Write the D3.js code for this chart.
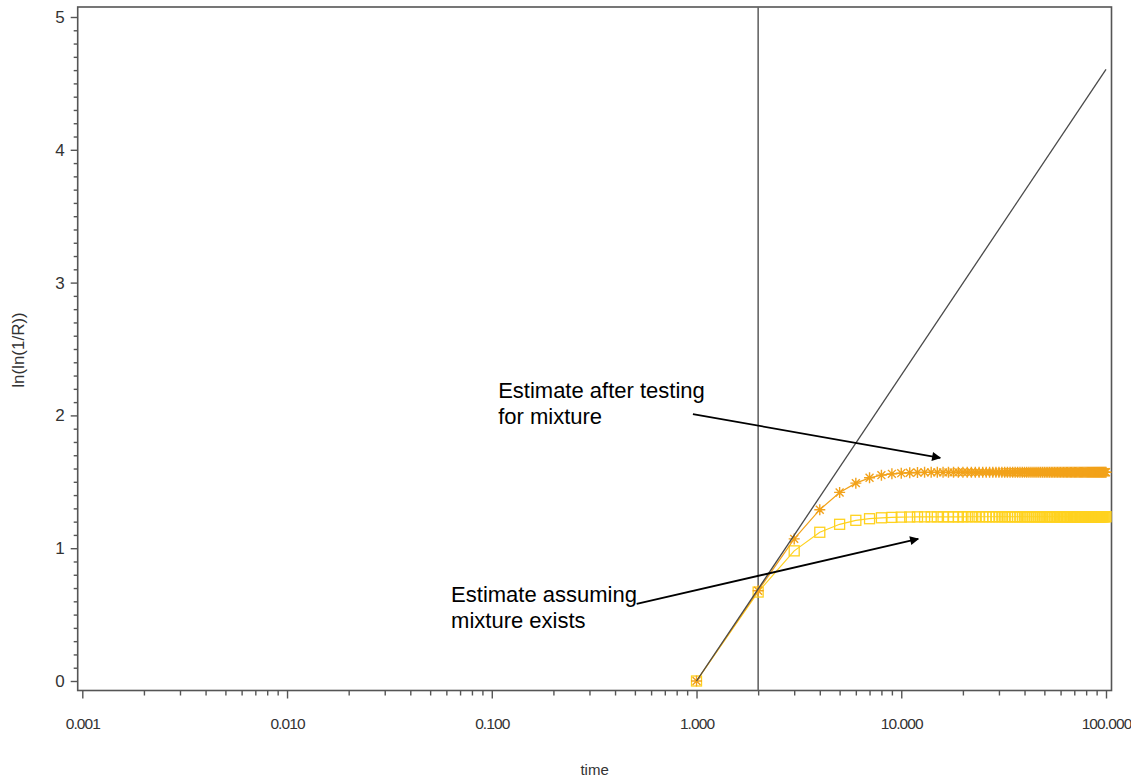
<!DOCTYPE html>
<html>
<head>
<meta charset="utf-8">
<script src="https://cdn.jsdelivr.net/npm/d3@7"></script>
<style>
  html, body { margin: 0; padding: 0; background: #fff; }
  svg { display: block; }
  text { font-family: "Liberation Sans", Arial, sans-serif; }
</style>
</head>
<body>
<svg id="chart" width="1131" height="783"></svg>
<script>
// time points (integer hours)
const times = [
  1, 2, 3, 4, 5, 6, 7, 8, 9, 10,
  11, 12, 13, 14, 15, 16, 17, 18, 19, 20,
  21, 22, 23, 24, 25, 26, 27, 28, 29, 30,
  31, 32, 33, 34, 35, 36, 37, 38, 39, 40,
  41, 42, 43, 44, 45, 46, 47, 48, 49, 50,
  51, 52, 53, 54, 55, 56, 57, 58, 59, 60,
  61, 62, 63, 64, 65, 66, 67, 68, 69, 70,
  71, 72, 73, 74, 75, 76, 77, 78, 79, 80,
  81, 82, 83, 84, 85, 86, 87, 88, 89, 90,
  91, 92, 93, 94, 95, 96, 97, 98, 99, 100
];

// ln(ln(1/R)) estimate after testing for mixture
const afterTesting = [
  0.000, 0.680, 1.070, 1.290, 1.420, 1.490, 1.530, 1.550, 1.560, 1.565,
  1.568, 1.570, 1.571, 1.571, 1.571, 1.571, 1.571, 1.571, 1.572, 1.572,
  1.572, 1.572, 1.572, 1.572, 1.572, 1.572, 1.572, 1.572, 1.572, 1.572,
  1.572, 1.572, 1.572, 1.572, 1.572, 1.572, 1.572, 1.572, 1.572, 1.572,
  1.572, 1.572, 1.572, 1.572, 1.572, 1.572, 1.572, 1.572, 1.572, 1.572,
  1.572, 1.572, 1.572, 1.572, 1.572, 1.572, 1.572, 1.572, 1.572, 1.572,
  1.572, 1.572, 1.572, 1.572, 1.572, 1.572, 1.572, 1.572, 1.572, 1.572,
  1.572, 1.572, 1.572, 1.572, 1.572, 1.572, 1.572, 1.572, 1.572, 1.572,
  1.572, 1.572, 1.572, 1.572, 1.572, 1.572, 1.572, 1.572, 1.572, 1.572,
  1.572, 1.572, 1.572, 1.572, 1.572, 1.572, 1.572, 1.572, 1.572, 1.572
];

// ln(ln(1/R)) estimate assuming mixture exists
const assumingMixture = [
  0.000, 0.670, 0.980, 1.120, 1.180, 1.210, 1.222, 1.229, 1.232, 1.234,
  1.235, 1.236, 1.236, 1.236, 1.236, 1.236, 1.236, 1.236, 1.236, 1.236,
  1.237, 1.237, 1.237, 1.237, 1.237, 1.237, 1.237, 1.237, 1.237, 1.237,
  1.237, 1.237, 1.237, 1.237, 1.237, 1.237, 1.237, 1.237, 1.237, 1.237,
  1.237, 1.237, 1.237, 1.237, 1.237, 1.237, 1.237, 1.237, 1.237, 1.237,
  1.237, 1.237, 1.237, 1.237, 1.237, 1.237, 1.237, 1.237, 1.237, 1.237,
  1.237, 1.237, 1.237, 1.237, 1.237, 1.237, 1.237, 1.237, 1.237, 1.237,
  1.237, 1.237, 1.237, 1.237, 1.237, 1.237, 1.237, 1.237, 1.237, 1.237,
  1.237, 1.237, 1.237, 1.237, 1.237, 1.237, 1.237, 1.237, 1.237, 1.237,
  1.237, 1.237, 1.237, 1.237, 1.237, 1.237, 1.237, 1.237, 1.237, 1.237
];

// single-population fit line (time, ln(ln(1/R)))
const fitTimes = [1, 100];
const fitValues = [0.000, 4.605];

// reference time marker
const refTime = 2;

// axis ticks
const xMajorTicks = [0.001, 0.01, 0.1, 1, 10, 100];
const xTickLabels = ["0.001", "0.010", "0.100", "1.000", "10.000", "100.000"];
const yMajorTicks = [0, 1, 2, 3, 4, 5];
const yTickLabels = ["0", "1", "2", "3", "4", "5"];

// callouts: text lines, text anchor (time, value), arrow from/to (time, value)
const calloutText = [
  ["Estimate after testing", "for mixture"],
  ["Estimate assuming", "mixture exists"]
];
const calloutAnchor = [[0.1074, 2.131], [0.0633, 0.595]];
const arrowFrom = [[0.96, 2.01], [0.51, 0.58]];
const arrowTo = [[15.5, 1.68], [12.1, 1.07]];

const svg = d3.select("#chart");

const x = d3.scaleLog().domain([0.001, 100]).range([82.3, 1106]);
const y = d3.scaleLinear().domain([0, 5]).range([681, 17]);

const frame = { left: 77.7, right: 1111.5, top: 7, bottom: 690.5 };
const axisColor = "#555";
const labelColor = "#333";

// plot frame
svg.append("rect")
  .attr("x", frame.left).attr("y", frame.top)
  .attr("width", frame.right - frame.left)
  .attr("height", frame.bottom - frame.top)
  .attr("fill", "none").attr("stroke", axisColor).attr("stroke-width", 1.6);

// x axis ticks
const xMinor = [];
for (let e = -3; e < 2; e++) for (let k = 2; k <= 9; k++) xMinor.push(k * Math.pow(10, e));

const xAxisMajor = d3.axisBottom(x).tickValues(xMajorTicks).tickSize(8).tickPadding(19)
  .tickFormat((d, i) => xTickLabels[i]);
const xAxisMinor = d3.axisBottom(x).tickValues(xMinor).tickSize(5).tickFormat("");

const gxMinor = svg.append("g").attr("transform", `translate(0,${frame.bottom})`).call(xAxisMinor);
const gx = svg.append("g").attr("transform", `translate(0,${frame.bottom})`).call(xAxisMajor);
[gx, gxMinor].forEach(g => {
  g.select(".domain").remove();
  g.selectAll("line").attr("stroke", axisColor).attr("stroke-width", 1.4);
});
gx.selectAll("text").attr("fill", labelColor).style("font-size", "15.5px").attr("letter-spacing", "-0.9px");

// y axis ticks
const yMinor = [];
for (let i = 0; i < 50; i++) if (i % 10 !== 0) yMinor.push(i / 10);
const yAxisMajor = d3.axisLeft(y).tickValues(yMajorTicks).tickSize(7).tickPadding(6)
  .tickFormat((d, i) => yTickLabels[i]);
const yAxisMinor = d3.axisLeft(y).tickValues(yMinor).tickSize(4).tickFormat("");
const gyMinor = svg.append("g").attr("transform", `translate(${frame.left},0)`).call(yAxisMinor);
const gy = svg.append("g").attr("transform", `translate(${frame.left},0)`).call(yAxisMajor);
[gy, gyMinor].forEach(g => {
  g.select(".domain").remove();
  g.selectAll("line").attr("stroke", axisColor).attr("stroke-width", 1.4);
});
gy.selectAll("text").attr("fill", labelColor).style("font-size", "17px");

// axis titles
svg.append("text")
  .attr("x", (frame.left + frame.right) / 2).attr("y", 775)
  .attr("text-anchor", "middle").attr("fill", labelColor).style("font-size", "15px")
  .text("time");
svg.append("text")
  .attr("transform", `translate(24,350) rotate(-90)`)
  .attr("text-anchor", "middle").attr("fill", labelColor).style("font-size", "17px")
  .text("ln(ln(1/R))");

// reference vertical line
svg.append("line")
  .attr("x1", x(refTime)).attr("x2", x(refTime))
  .attr("y1", frame.top).attr("y2", frame.bottom)
  .attr("stroke", "#666").attr("stroke-width", 1.6);

// series
const starColor = "#F2A21A";
const squareColor = "#FFD21F";

const line = d3.line().x(d => x(d[0])).y(d => y(d[1]));

const sqData = times.map((t, i) => [t, assumingMixture[i]]);
const stData = times.map((t, i) => [t, afterTesting[i]]);

svg.append("path").datum(sqData).attr("d", line)
  .attr("fill", "none").attr("stroke", squareColor).attr("stroke-width", 1.2);
svg.selectAll(".sq").data(sqData).enter().append("rect")
  .attr("class", "sq")
  .attr("x", d => x(d[0]) - 5).attr("y", d => y(d[1]) - 5)
  .attr("width", 10).attr("height", 10)
  .attr("fill", "none").attr("stroke", squareColor).attr("stroke-width", 1.3);

svg.append("path").datum(stData).attr("d", line)
  .attr("fill", "none").attr("stroke", starColor).attr("stroke-width", 1.2);
const starPath = (() => {
  const r = 5.5, s = r * 0.72;
  return `M${-r},0L${r},0M0,${-r}L0,${r}M${-s},${-s}L${s},${s}M${-s},${s}L${s},${-s}`;
})();
svg.selectAll(".st").data(stData).enter().append("path")
  .attr("class", "st")
  .attr("transform", d => `translate(${x(d[0])},${y(d[1])})`)
  .attr("d", starPath)
  .attr("fill", "none").attr("stroke", starColor).attr("stroke-width", 1.4);

// fit line
const fitData = fitTimes.map((t, i) => [t, fitValues[i]]);
svg.append("path").datum(fitData).attr("d", line)
  .attr("fill", "none").attr("stroke", "#4a4a4a").attr("stroke-width", 1.3);

// callouts
svg.append("defs").append("marker")
  .attr("id", "arrowhead").attr("viewBox", "0 0 10 10")
  .attr("refX", 9).attr("refY", 5)
  .attr("markerWidth", 14).attr("markerHeight", 9)
  .attr("markerUnits", "userSpaceOnUse")
  .attr("orient", "auto")
  .append("path").attr("d", "M0,0L10,5L0,10Z").attr("fill", "#000");

calloutText.forEach((lines, i) => {
  const t = svg.append("text")
    .attr("x", x(calloutAnchor[i][0])).attr("y", y(calloutAnchor[i][1]))
    .attr("fill", "#000").style("font-size", "22px");
  lines.forEach((s, j) => {
    t.append("tspan").attr("x", x(calloutAnchor[i][0])).attr("dy", j === 0 ? 0 : 26).text(s);
  });
  svg.append("line")
    .attr("x1", x(arrowFrom[i][0])).attr("y1", y(arrowFrom[i][1]))
    .attr("x2", x(arrowTo[i][0])).attr("y2", y(arrowTo[i][1]))
    .attr("stroke", "#000").attr("stroke-width", 1.8)
    .attr("marker-end", "url(#arrowhead)");
});
</script>
</body>
</html>
